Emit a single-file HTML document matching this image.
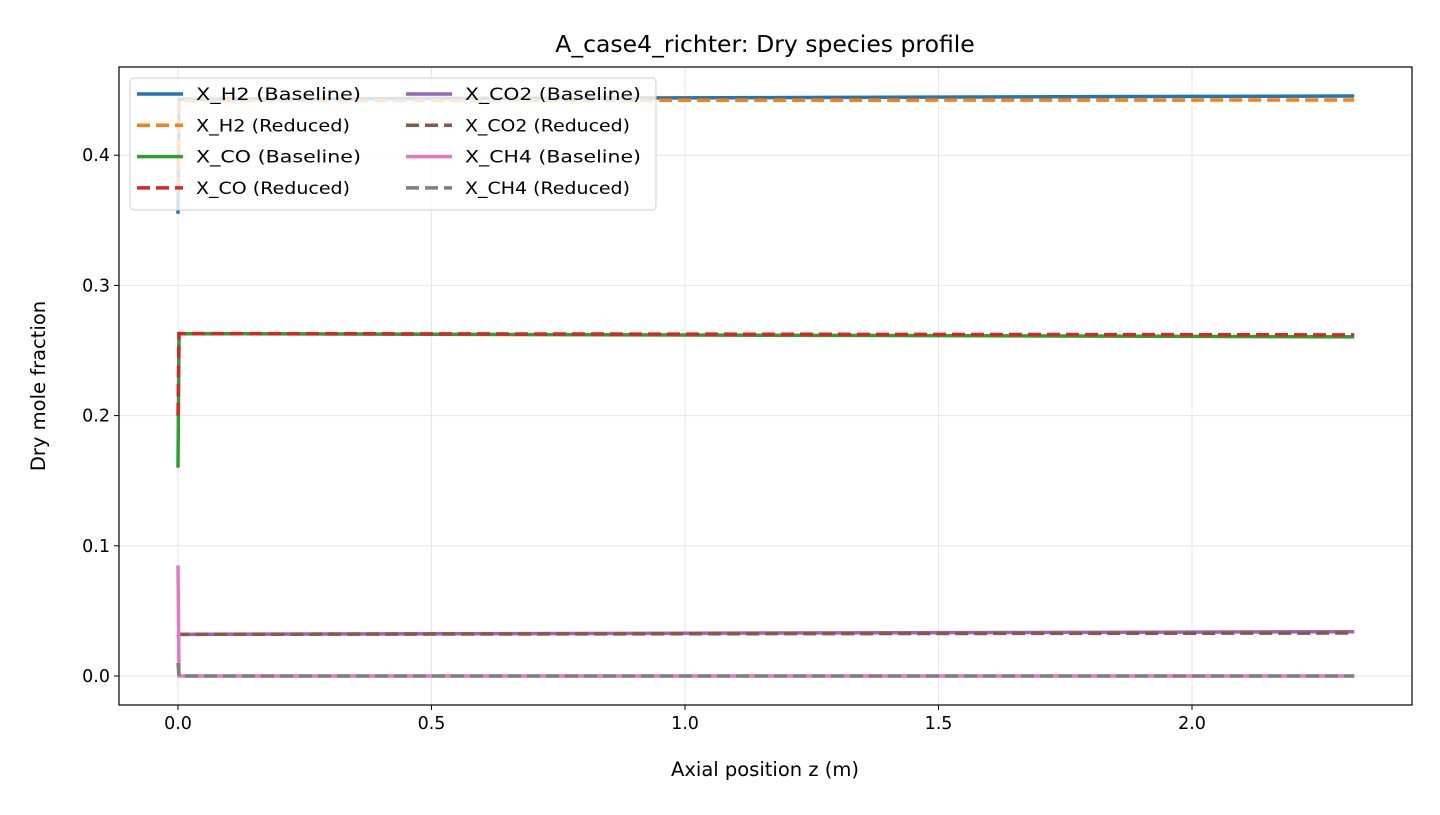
<!DOCTYPE html>
<html><head><meta charset="utf-8"><style>
body{margin:0;background:#fff;font-family:"Liberation Sans","DejaVu Sans",sans-serif}
text{font-family:"DejaVu Sans","Liberation Sans",sans-serif}
</style></head><body>
<svg id="c" width="1440" height="810" xmlns="http://www.w3.org/2000/svg"></svg>
<script>
const xTicks=[0.0,0.5,1.0,1.5,2.0];
const yTicks=[0.0,0.1,0.2,0.3,0.4];
const seriesNames=["X_H2 (Baseline)","X_H2 (Reduced)","X_CO (Baseline)","X_CO (Reduced)","X_CO2 (Baseline)","X_CO2 (Reduced)","X_CH4 (Baseline)","X_CH4 (Reduced)"];
const zValues=[0,0.002,2.32];
const h2Base=[0.355,0.443,0.4455];
const h2Red=[0.373,0.442,0.4424];
const coBase=[0.16,0.263,0.2605];
const coRed=[0.2,0.263,0.262];
const co2Base=[0.03,0.032,0.034];
const co2Red=[0.03,0.032,0.033];
const ch4Base=[0.085,0.0,0.0];
const ch4Red=[0.01,0.0,0.0];
const allSeries=[h2Base,h2Red,coBase,coRed,co2Base,co2Red,ch4Base,ch4Red];
const colors=["#1f77b4","#ff7f0e","#2ca02c","#d62728","#9467bd","#8c564b","#e377c2","#7f7f7f"];
const dashed=[false,true,false,true,false,true,false,true];
const L=119,R=1412,T=67,B=705;
const X=v=>178+v*507, Y=v=>676-v*1302;
const svg=document.getElementById('c');const NS="http://www.w3.org/2000/svg";
function el(t,a,p){const e=document.createElementNS(NS,t);for(const k in a)e.setAttribute(k,a[k]);(p||svg).appendChild(e);return e;}
xTicks.forEach(v=>{const g=el('line',{x1:X(v),x2:X(v),y1:T,y2:B,stroke:'#e6e6e6','stroke-width':1});
});
yTicks.forEach(v=>{const g=el('line',{x1:L,x2:R,y1:Y(v),y2:Y(v),stroke:'#e6e6e6','stroke-width':1});
});
allSeries.forEach((s,i)=>{const pts=s.map((v,j)=>X(zValues[j])+','+Y(v)).join(' ');
const p=el('polyline',{points:pts,fill:'none',stroke:colors[i],'stroke-width':3.5,'stroke-dasharray':dashed[i]?'13,6':'none'});
});
const f=el('rect',{x:L,y:T,width:R-L,height:B-T,fill:'none',stroke:'#000','stroke-width':1.2});

xTicks.forEach(v=>{el('line',{x1:X(v),x2:X(v),y1:B,y2:B+5,stroke:'#000'});
const t=el('text',{x:X(v),y:B+24,'text-anchor':'middle','font-size':17.5});t.textContent=v.toFixed(1);
});
yTicks.forEach(v=>{el('line',{x1:L-5,x2:L,y1:Y(v),y2:Y(v),stroke:'#000'});
const t=el('text',{x:L-9,y:Y(v)+6,'text-anchor':'end','font-size':17.5});t.textContent=v.toFixed(1);
});
let t=el('text',{x:765,y:52,'text-anchor':'middle','font-size':23.5});t.textContent='A_case4_richter: Dry species profile';

t=el('text',{x:765,y:776,'text-anchor':'middle','font-size':19.5});t.textContent='Axial position z (m)';

t=el('text',{x:45,y:386,'text-anchor':'middle','font-size':19.5,transform:'rotate(-90 45 386)'});t.textContent='Dry mole fraction';

const lg=el('rect',{x:130,y:78,width:526,height:132,rx:4,fill:'#fff','fill-opacity':0.8,stroke:'#ccc'});

seriesNames.forEach((n,i)=>{const col=Math.floor(i/4),row=i%4;const x0=col?406:137,y0=94+row*31.3;
el('line',{x1:x0,x2:x0+46,y1:y0,y2:y0,stroke:colors[i],'stroke-width':3.5,'stroke-dasharray':dashed[i]?'13,6':'none'});
const tt=el('text',{x:x0+59,y:y0+6,'font-size':16.5,textLength:(n.length*11).toFixed(0),lengthAdjust:'spacingAndGlyphs'});tt.textContent=n;
});
</script>
</body></html>
